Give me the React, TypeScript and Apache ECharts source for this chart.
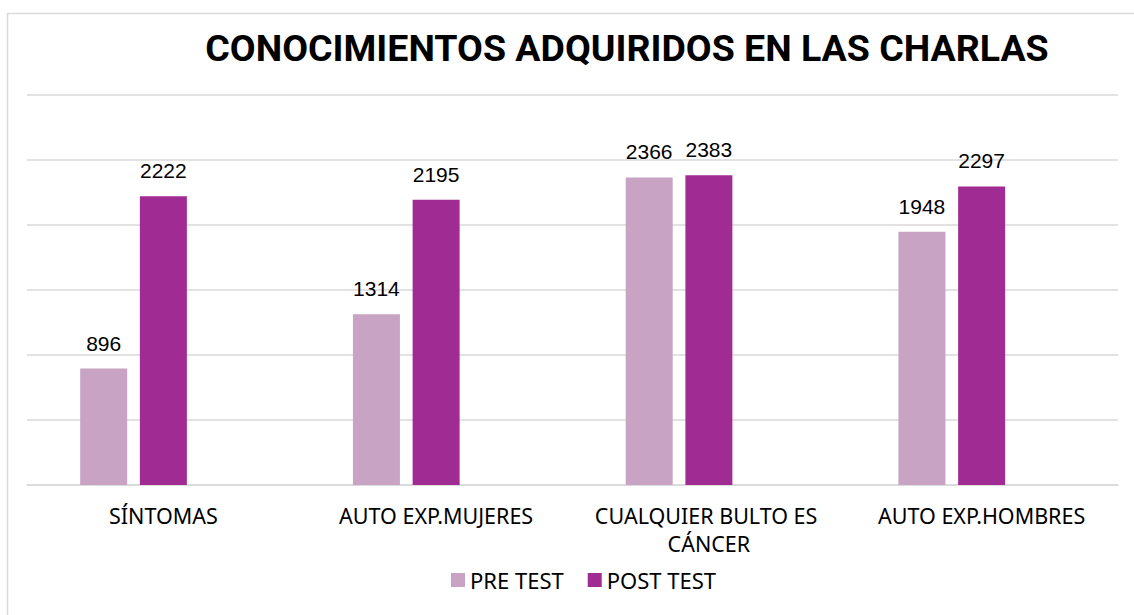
import React, { useEffect, useRef } from "react";
import * as echarts from "echarts";

const categories = ["SÍNTOMAS", "AUTO EXP.MUJERES", "CUALQUIER BULTO ES CÁNCER", "AUTO EXP.HOMBRES"];
const preTest = [896, 1314, 2366, 1948];
const postTest = [2222, 2195, 2383, 2297];
const emptySeries = [null, null, null, null];
const seriesNames = ["PRE TEST", "POST TEST"];
const titleText = "CONOCIMIENTOS ADQUIRIDOS EN LAS CHARLAS";

export default function App() {
  const ref = useRef<HTMLDivElement>(null);
  useEffect(() => {
    if (!ref.current) return;
    const chart = echarts.init(ref.current, null, { renderer: "svg" });
    const valueLabel = {
      show: true,
      position: "top" as const,
      distance: 15,
      color: "#000",
      fontFamily: "Liberation Sans",
      fontSize: 21,
    };
    chart.setOption({
      animation: false,
      backgroundColor: "#fff",
      title: {
        text: titleText,
        left: 622,
        textAlign: "center",
        top: 24,
        textStyle: { fontFamily: "Roboto", fontWeight: "bold", fontSize: 37.5, color: "#000" },
      },
      graphic: [
        {
          type: "rect",
          shape: { x: 7.5, y: 13.5, width: 1200, height: 700 },
          style: { fill: "none", stroke: "#d9d9d9", lineWidth: 1.5 },
          silent: true,
        },
      ],
      legend: {
        data: seriesNames,
        left: 446,
        top: 564,
        icon: "rect",
        itemWidth: 14,
        itemHeight: 14,
        itemGap: 24,
        textStyle: { fontFamily: "Noto Sans", fontSize: 22, color: "#000" },
      },
      grid: { left: 27, right: 16, top: 95, bottom: 130, containLabel: false },
      xAxis: {
        type: "category",
        data: categories,
        axisLine: { show: true, lineStyle: { color: "#d9d9d9", width: 1.5 } },
        axisTick: { show: false },
        axisLabel: {
          color: "#000",
          fontFamily: "Noto Sans",
          fontSize: 21.5,
          margin: 16,
          lineHeight: 28,
          width: 270,
          overflow: "break",
          interval: 0,
        },
      },
      yAxis: {
        type: "value",
        min: 0,
        max: 3000,
        interval: 500,
        axisLabel: { show: false },
        axisLine: { show: false },
        axisTick: { show: false },
        splitLine: { lineStyle: { color: "#d9d9d9", width: 1.5 } },
      },
      series: [
        {
          name: seriesNames[0],
          type: "bar",
          data: preTest,
          barWidth: 47,
          barGap: "27%",
          itemStyle: { color: "#C8A3C3" },
          label: valueLabel,
        },
        {
          name: seriesNames[1],
          type: "bar",
          data: postTest,
          barWidth: 47,
          barGap: "27%",
          itemStyle: { color: "#A02B93" },
          label: valueLabel,
        },
        {
          name: "",
          type: "bar",
          data: emptySeries,
          barWidth: 47,
          barGap: "27%",
        },
      ],
    });
    return () => chart.dispose();
  }, []);
  return (
    <div
      ref={ref}
      style={{ position: "absolute", left: 0, top: 0, width: 1134, height: 615 }}
    />
  );
}
